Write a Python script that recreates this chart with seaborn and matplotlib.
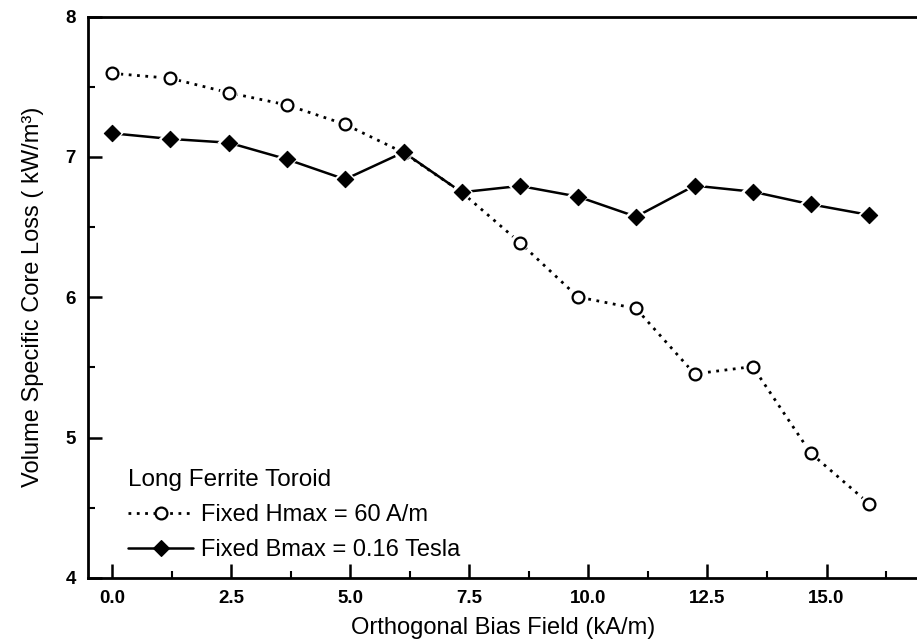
import matplotlib
matplotlib.use("Agg")
import matplotlib.pyplot as plt
from matplotlib.ticker import MultipleLocator, FormatStrFormatter
import seaborn as sns
import pandas as pd

# Orthogonal bias field (kA/m)
bias_field = [0.0, 1.22, 2.45, 3.67, 4.89, 6.12, 7.34, 8.56, 9.78, 11.0,
              12.23, 13.45, 14.67, 15.9]
# Volume specific core loss (kW/m^3)
loss_fixed_h = [7.595, 7.56, 7.457, 7.37, 7.232, 7.03, 6.748, 6.39, 6.002,
                5.92, 5.454, 5.506, 4.889, 4.528]
loss_fixed_b = [7.168, 7.128, 7.101, 6.983, 6.84, 7.033, 6.748, 6.793, 6.717,
                6.574, 6.795, 6.752, 6.662, 6.586]

label_h = "Fixed Hmax = 60 A/m"
label_b = "Fixed Bmax = 0.16 Tesla"
legend_title = "Long Ferrite Toroid"
x_label = "Orthogonal Bias Field (kA/m)"
y_label = "Volume Specific Core Loss ( kW/m³)"

df_h = pd.DataFrame({"x": bias_field, "y": loss_fixed_h})
df_b = pd.DataFrame({"x": bias_field, "y": loss_fixed_b})

sns.set_style("white")
ink = "black"
plt.rcParams["font.family"] = ["Liberation Sans", "DejaVu Sans"]
plt.rcParams.update({
    "text.color": ink,
    "axes.labelcolor": ink,
    "xtick.color": ink,
    "ytick.color": ink,
    "axes.edgecolor": ink,
})

fig = plt.figure(figsize=(9.17, 6.40), dpi=100)
ax = fig.add_axes([0.0963, 0.0969, 0.9037, 0.8773])

# connecting lines with markers (these also provide the legend handles)
sns.lineplot(data=df_h, x="x", y="y", ax=ax, color=ink, lw=2.0,
             linestyle=(0, (1, 2)), marker="o", markersize=8.5,
             markerfacecolor="white", markeredgecolor=ink,
             markeredgewidth=1.6, label=label_h)
sns.lineplot(data=df_b, x="x", y="y", ax=ax, color=ink, lw=1.8,
             linestyle="-", marker="D", markersize=8.3,
             markerfacecolor=ink, markeredgecolor=ink,
             markeredgewidth=0.8, label=label_b)

# white halos so the lines stop short of each marker; diamonds sit on top
sns.scatterplot(data=df_h, x="x", y="y", ax=ax, marker="o", s=13 ** 2,
                color="white", edgecolor="none", zorder=2.5, legend=False)
sns.scatterplot(data=df_h, x="x", y="y", ax=ax, marker="o", s=8.5 ** 2,
                color="white", edgecolor=ink, linewidth=1.6, zorder=2.6,
                legend=False)
sns.scatterplot(data=df_b, x="x", y="y", ax=ax, marker="D", s=11.5 ** 2,
                color="white", edgecolor="none", zorder=2.7, legend=False)
sns.scatterplot(data=df_b, x="x", y="y", ax=ax, marker="D", s=8.3 ** 2,
                color=ink, edgecolor=ink, linewidth=0.8, zorder=3,
                legend=False)

ax.set_xlim(-0.5, 16.9)
ax.set_ylim(4, 8)
ax.xaxis.set_major_locator(MultipleLocator(2.5))
ax.xaxis.set_minor_locator(MultipleLocator(1.25))
ax.xaxis.set_major_formatter(FormatStrFormatter("%.1f"))
ax.yaxis.set_major_locator(MultipleLocator(1))
ax.yaxis.set_minor_locator(MultipleLocator(0.5))
ax.yaxis.set_major_formatter(FormatStrFormatter("%d"))

ax.tick_params(axis="both", which="both", direction="in", bottom=True,
               left=True, top=False, right=False, colors=ink)
ax.tick_params(axis="both", which="major", length=10, width=1.8,
               labelsize=13.5, pad=9)
ax.tick_params(axis="both", which="minor", length=5, width=1.5)
for lbl in ax.get_xticklabels() + ax.get_yticklabels():
    lbl.set_fontweight("bold")

for side in ("left", "bottom", "top"):
    ax.spines[side].set_linewidth(2.0)
    ax.spines[side].set_color(ink)
ax.spines["right"].set_visible(False)

ax.set_xlabel(x_label, fontsize=17, labelpad=7)
ax.set_ylabel(y_label, fontsize=17, labelpad=15)

leg = ax.legend(title=legend_title, loc="lower left",
                bbox_to_anchor=(0.02, -0.012), frameon=False, fontsize=17,
                title_fontsize=17.5, handlelength=2.75, handletextpad=0.3,
                labelspacing=0.56, alignment="left", borderpad=0.5)

fig.savefig("out.png", dpi=100)
